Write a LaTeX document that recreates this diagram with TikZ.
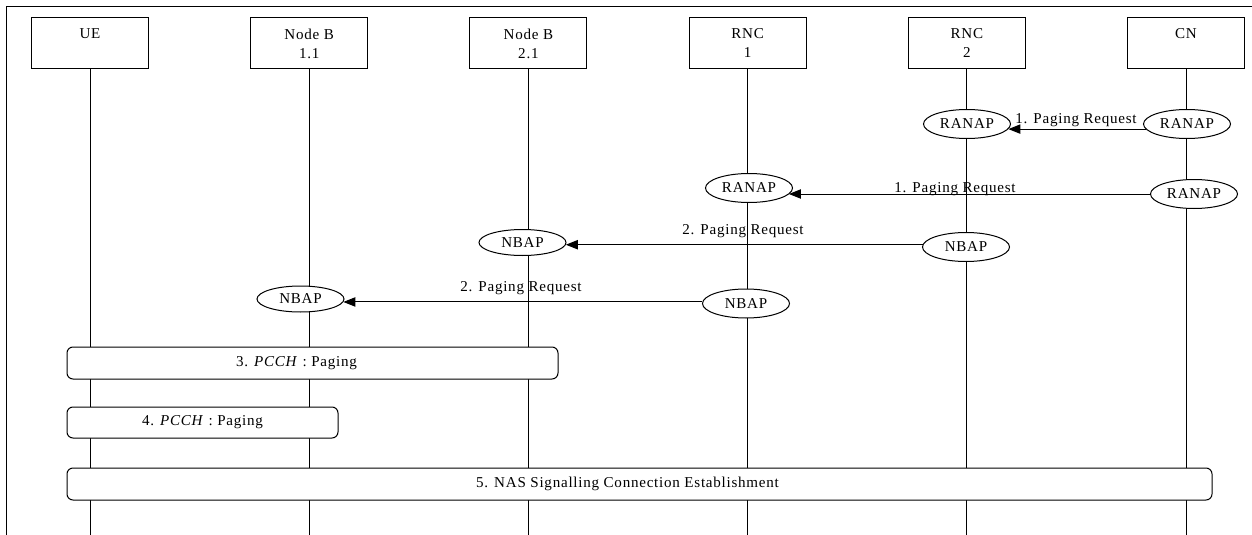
\documentclass[tikz,border=0pt]{standalone}
\usepackage{fontspec}
\setmainfont{Liberation Serif}[LetterSpace=5]
\usetikzlibrary{arrows.meta,shapes.geometric}

\tikzset{
	entity/.style={draw, line width=0.75pt, minimum width=87.75pt, minimum height=38.25pt, align=center, inner sep=0pt},
	proto/.style={draw, ellipse, fill=white, line width=0.75pt, minimum width=65.25pt, minimum height=21.75pt, inner sep=0pt},
	msg/.style={line width=0.75pt, -{Triangle[length=9pt,width=7pt]}},
	msglabel/.style={anchor=base, inner sep=0pt},
	note/.style={draw, fill=white, line width=0.75pt, rounded corners=4.5pt, minimum height=24pt, inner sep=0pt}
}

\begin{document}
\begin{tikzpicture}[x=0.75pt,y=0.75pt,yscale=-1,xscale=1, font=\fontsize{11.3}{14.25}\selectfont]
	\useasboundingbox (0,0) rectangle (1252,535);
	
	%Shape: Frame
	\draw [line width=0.75pt] (6,535) -- (6,7) -- (1252,7) ;
	\coordinate (bottom) at (0,535);
	
	%Shape: Entities
	\node [entity] (ue) at (90,43.5) {UE\\ ~};
	\node [entity] (nodeb11) at (309.2,43.5) {Node B\\1.1};
	\node [entity] (nodeb21) at (528.4,43.5) {Node B\\2.1};
	\node [entity] (rnc1) at (747.6,43.5) {RNC\\1};
	\node [entity] (rnc2) at (966.8,43.5) {RNC\\2};
	\node [entity] (cn) at (1186,43.5) {CN\\ ~};
	
	%Straight Lines: lifelines
	\foreach \n in {ue,nodeb11,nodeb21,rnc1,rnc2,cn}
		\draw [line width=0.75pt] (\n.south) -- (\n.south |- bottom) ;
	
	%Shape: Ellipses
	\node [proto] (ranap-rnc2) at (967,124) {RANAP};
	\node [proto] (ranap-cn1) at (1187,124) {RANAP};
	\node [proto] (ranap-rnc1) at (749,188) {RANAP};
	\node [proto] (ranap-cn2) at (1194,194) {RANAP};
	\node [proto, minimum height=19.5pt] (nbap-nb21) at (522.5,242.5) {NBAP};
	\node [proto] (nbap-rnc2) at (966,247) {NBAP};
	\node [proto, minimum height=19.5pt] (nbap-nb11) at (300.5,299) {NBAP};
	\node [proto] (nbap-rnc1) at (746,303.5) {NBAP};
	
	%Straight Lines: messages
	\draw [msg] (ranap-cn1.187) -- (ranap-rnc2.-7 |- ranap-cn1.187) ;
	\draw [msg] (ranap-cn2.west) -- (ranap-rnc1.-9 |- ranap-cn2.west) ;
	\draw [msg] (nbap-rnc2.177) -- (nbap-nb21.-3.6 |- nbap-rnc2.177) ;
	\draw [msg] (nbap-rnc1.178) -- (nbap-nb11.-4.3 |- nbap-rnc1.178) ;
	
	% Text Node
	\node [msglabel] (lbl1a) at (1076,123) {1. Paging Request};
	% Text Node
	\node [msglabel] (lbl1b) at (955,192) {1. Paging Request};
	% Text Node
	\node [msglabel] (lbl2a) at (743,234) {2. Paging Request};
	% Text Node
	\node [msglabel] (lbl2b) at (521,291) {2. Paging Request};
	
	%Rounded Rect
	\node [note, minimum width=368.25pt] (pcch3) at (312.5,363) {3. \textit{PCCH} : Paging\hspace*{24pt}};
	%Rounded Rect
	\node [note, minimum width=203.25pt, minimum height=23.25pt] (pcch4) at (202.5,422.5) {4. \textit{PCCH} : Paging};
	%Rounded Rect
	\node [note, minimum width=858.75pt] (nas5) at (639.5,484) {5. NAS Signalling Connection Establishment\hspace*{18pt}};
	
\end{tikzpicture}
\end{document}
